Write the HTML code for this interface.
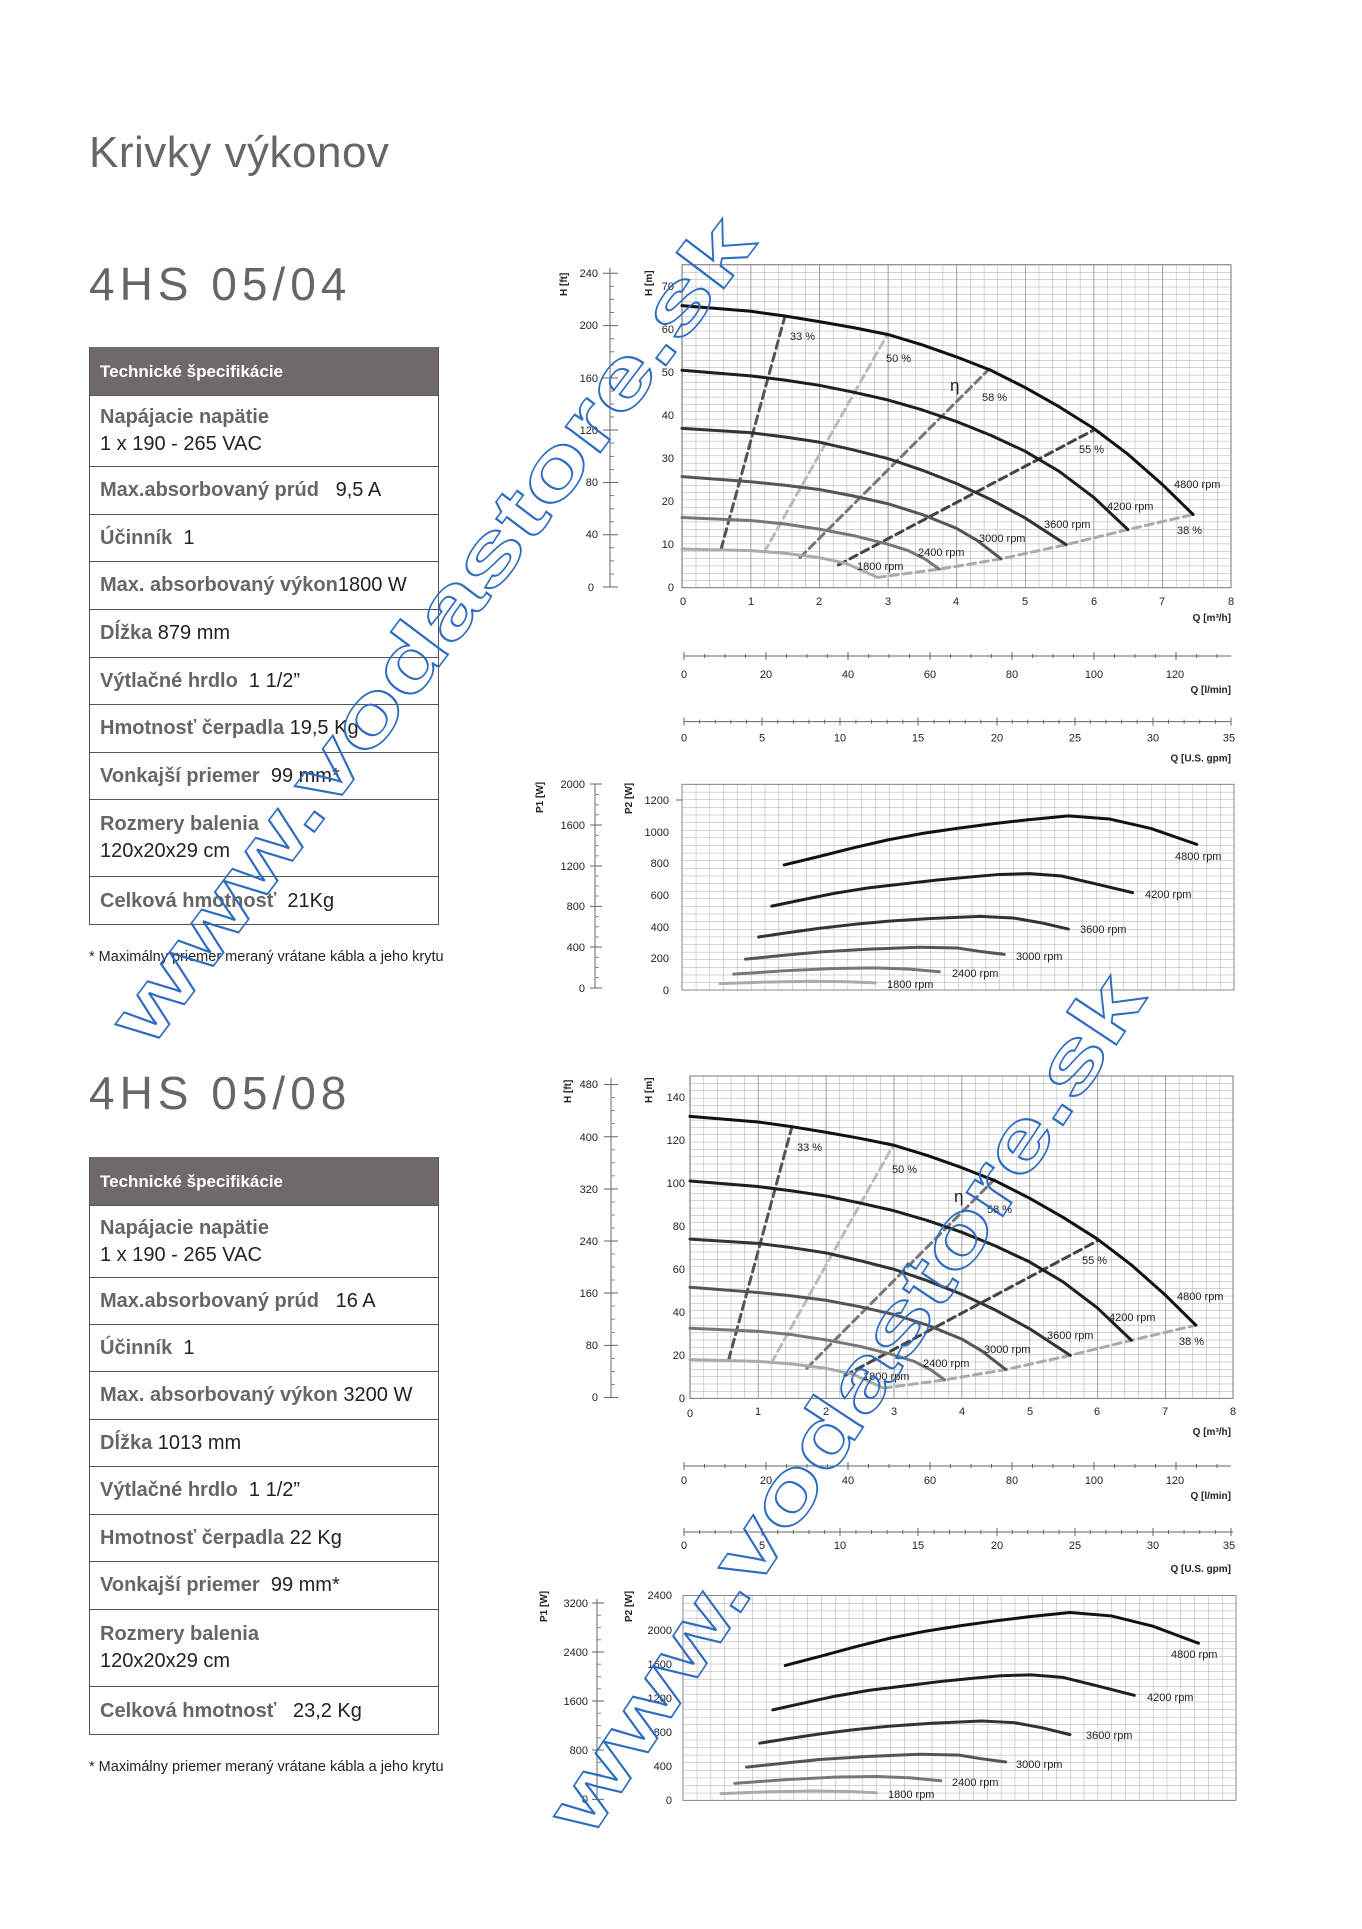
<!DOCTYPE html>
<html><head><meta charset="utf-8">
<style>
body{margin:0;background:#fff;}
.page{position:relative;width:1362px;height:1929px;overflow:hidden;background:#fff;font-family:"Liberation Sans",sans-serif;}
.t{position:absolute;color:#666;white-space:nowrap;line-height:1;}
.tbl{position:absolute;left:89px;width:350px;border:1px solid #555;border-top:none;box-sizing:border-box;}
.row{position:absolute;left:0;right:0;border-top:1px solid #555;box-sizing:border-box;padding-left:10px;font-size:20px;color:#222;display:flex;flex-direction:column;justify-content:center;line-height:27px;white-space:nowrap;}
.row b{color:#666;}
.hd{background:#6f6a67;color:#fff;font-weight:bold;font-size:17px;border-top:none;}
.fn{position:absolute;left:89px;font-size:14.5px;color:#222;line-height:1;}
svg{position:absolute;left:0;top:0;}
</style></head><body><div class="page">

<div class="t" style="left:89px;top:131px;font-size:44px;letter-spacing:0.5px;">Krivky výkonov</div>
<div class="t" style="left:89px;top:261px;font-size:46px;letter-spacing:5px;">4HS 05/04</div>

<div class="tbl" style="top:347px;height:578px;">
<div class="row hd" style="top:0;height:48px;">Technické špecifikácie</div>
<div class="row" style="top:48px;height:71px;"><div><b>Napájacie napätie</b></div><div>1 x 190 - 265 VAC</div></div>
<div class="row" style="top:119px;height:48px;"><div><b>Max.absorbovaný prúd</b> &nbsp; 9,5 A</div></div>
<div class="row" style="top:167px;height:47px;"><div><b>Účinník</b> &nbsp;1</div></div>
<div class="row" style="top:214px;height:48px;"><div><b>Max. absorbovaný výkon</b>1800 W</div></div>
<div class="row" style="top:262px;height:48px;"><div><b>Dĺžka</b> 879 mm</div></div>
<div class="row" style="top:310px;height:47px;"><div><b>Výtlačné hrdlo</b> &nbsp;1 1/2”</div></div>
<div class="row" style="top:357px;height:48px;"><div><b>Hmotnosť čerpadla</b> 19,5 Kg</div></div>
<div class="row" style="top:405px;height:47px;"><div><b>Vonkajší priemer</b> &nbsp;99 mm*</div></div>
<div class="row" style="top:452px;height:77px;"><div><b>Rozmery balenia</b></div><div>120x20x29 cm</div></div>
<div class="row" style="top:529px;height:49px;"><div><b>Celková hmotnosť</b> &nbsp;21Kg</div></div>
</div>
<div class="fn" style="top:950px;">* Maximálny priemer meraný vrátane kábla a jeho krytu</div>

<div class="t" style="left:89px;top:1070px;font-size:46px;letter-spacing:5px;">4HS 05/08</div>

<div class="tbl" style="top:1157px;height:578px;">
<div class="row hd" style="top:0;height:48px;">Technické špecifikácie</div>
<div class="row" style="top:48px;height:72px;"><div><b>Napájacie napätie</b></div><div>1 x 190 - 265 VAC</div></div>
<div class="row" style="top:120px;height:47px;"><div><b>Max.absorbovaný prúd</b> &nbsp; 16 A</div></div>
<div class="row" style="top:167px;height:47px;"><div><b>Účinník</b> &nbsp;1</div></div>
<div class="row" style="top:214px;height:48px;"><div><b>Max. absorbovaný výkon</b> 3200 W</div></div>
<div class="row" style="top:262px;height:47px;"><div><b>Dĺžka</b> 1013 mm</div></div>
<div class="row" style="top:309px;height:48px;"><div><b>Výtlačné hrdlo</b> &nbsp;1 1/2”</div></div>
<div class="row" style="top:357px;height:47px;"><div><b>Hmotnosť čerpadla</b> 22 Kg</div></div>
<div class="row" style="top:404px;height:48px;"><div><b>Vonkajší priemer</b> &nbsp;99 mm*</div></div>
<div class="row" style="top:452px;height:77px;"><div><b>Rozmery balenia</b></div><div>120x20x29 cm</div></div>
<div class="row" style="top:529px;height:49px;"><div><b>Celková hmotnosť</b> &nbsp; 23,2 Kg</div></div>
</div>
<div class="fn" style="top:1760px;">* Maximálny priemer meraný vrátane kábla a jeho krytu</div>

<svg width="1362" height="1929" viewBox="0 0 1362 1929" font-family="Liberation Sans, sans-serif">
<defs>
<pattern id="g1" x="682" y="587.7" width="13.72" height="7.34" patternUnits="userSpaceOnUse"><path d="M0 0H13.72M0 0V7.34" stroke="#a8a8a8" stroke-width="1" fill="none"/></pattern>
<pattern id="g1m" x="682" y="587.7" width="68.6" height="400" patternUnits="userSpaceOnUse"><path d="M0 0V400" stroke="#777" stroke-width="1.2"/></pattern>
<pattern id="g2" x="690" y="1398.4" width="13.58" height="7.33" patternUnits="userSpaceOnUse"><path d="M0 0H13.58M0 0V7.33" stroke="#a8a8a8" stroke-width="1" fill="none"/></pattern>
<pattern id="g2m" x="690" y="1398.4" width="67.9" height="400" patternUnits="userSpaceOnUse"><path d="M0 0V400" stroke="#777" stroke-width="1.2"/></pattern>
<pattern id="p1" x="682" y="990" width="13.8" height="7.62" patternUnits="userSpaceOnUse"><path d="M0 0H13.8M0 0V7.62" stroke="#aaa" stroke-width="1" fill="none"/></pattern>
<pattern id="p2" x="683" y="1800.4" width="13.82" height="7.59" patternUnits="userSpaceOnUse"><path d="M0 0H13.82M0 0V7.59" stroke="#aaa" stroke-width="1" fill="none"/></pattern>

<g id="hq" fill="none" stroke-linejoin="round" stroke-linecap="round">
<polyline vector-effect="non-scaling-stroke" stroke="#555" stroke-width="3" stroke-dasharray="8 5" points="0.57,9 1.5,63"/>
<polyline vector-effect="non-scaling-stroke" stroke="#bbb" stroke-width="3" stroke-dasharray="8 5" points="1.2,8.3 3,59"/>
<polyline vector-effect="non-scaling-stroke" stroke="#777" stroke-width="3" stroke-dasharray="8 5" points="1.72,7 4.48,50.8"/>
<polyline vector-effect="non-scaling-stroke" stroke="#444" stroke-width="3" stroke-dasharray="8 5" points="2.28,5.3 6,36.6"/>
<polyline vector-effect="non-scaling-stroke" stroke="#aaa" stroke-width="3" stroke-dasharray="8 5" points="2.85,2.4 3.75,4.3 4.65,6.7 5.6,10 6.5,13.5 7.45,17"/>
<polyline vector-effect="non-scaling-stroke" stroke="#111" stroke-width="3" points="0,65.5 1,64.2 1.5,63.1 2,61.8 2.5,60.4 3,58.8 3.5,56.4 4,53.6 4.5,50.5 5,46.5 5.5,42 6,37 6.5,31 7,24 7.45,17"/>
<polyline vector-effect="non-scaling-stroke" stroke="#1e1e1e" stroke-width="3" points="0,50.5 1,49.2 1.5,48.2 2,47 2.5,45.4 3,43.6 3.5,41.3 4,38.6 4.5,35.4 5,31.7 5.5,27 6,21 6.5,13.5"/>
<polyline vector-effect="non-scaling-stroke" stroke="#333" stroke-width="3" points="0,37 1,36 1.5,35 2,33.8 2.5,32 3,30 3.5,27.3 4,24.2 4.5,20.5 5,16.2 5.6,10"/>
<polyline vector-effect="non-scaling-stroke" stroke="#555" stroke-width="3" points="0,25.8 1,24.6 1.5,23.8 2,22.8 2.5,21.3 3,19.5 3.5,17 4,13.8 4.3,11 4.65,6.7"/>
<polyline vector-effect="non-scaling-stroke" stroke="#777" stroke-width="3" points="0,16.3 1,15.6 1.5,14.8 2,13.6 2.5,12.1 3,10.1 3.3,8.6 3.55,6.6 3.75,4.3"/>
<polyline vector-effect="non-scaling-stroke" stroke="#aaa" stroke-width="3" points="0,9 1,8.6 1.5,8 2,7 2.4,5.6 2.85,2.4"/>
</g>
<g id="pq" fill="none" stroke-linecap="round" stroke-linejoin="round">
<polyline vector-effect="non-scaling-stroke" stroke="#111" stroke-width="3" points="1.48,790 2,845 2.5,900 3,950 3.5,990 4,1022 4.5,1050 5,1075 5.6,1100 6.2,1080 6.8,1020 7.46,920"/>
<polyline vector-effect="non-scaling-stroke" stroke="#1e1e1e" stroke-width="3" points="1.3,530 1.8,575 2.2,610 2.7,645 3.2,670 3.7,695 4.2,715 4.6,730 5.04,735 5.5,720 6,670 6.53,615"/>
<polyline vector-effect="non-scaling-stroke" stroke="#333" stroke-width="3" points="1.11,335 1.5,360 2,390 2.5,415 3,435 3.6,452 4.32,465 4.8,455 5.2,425 5.6,385"/>
<polyline vector-effect="non-scaling-stroke" stroke="#555" stroke-width="3" points="0.92,195 1.5,220 2,240 2.7,258 3.44,270 4,265 4.3,245 4.67,225"/>
<polyline vector-effect="non-scaling-stroke" stroke="#777" stroke-width="3" points="0.75,100 1.5,122 2.2,136 2.79,140 3.3,132 3.73,115"/>
<polyline vector-effect="non-scaling-stroke" stroke="#aaa" stroke-width="3" points="0.55,40 1.2,50 1.87,55 2.4,52 2.8,45"/>
</g>
</defs>

<!-- ===== CHART 1 ===== -->
<rect x="682" y="264.7" width="549" height="323" fill="url(#g1)"/>
<rect x="682" y="264.7" width="549" height="323" fill="url(#g1m)"/>
<rect x="682" y="264.7" width="549" height="323" fill="none" stroke="#777" stroke-width="1"/>
<use href="#hq" transform="translate(682 587.7) scale(68.6 -4.306)"/>
<g font-size="11" fill="#222">
<text x="790" y="340">33 %</text><text x="886" y="362">50 %</text>
<text x="950" y="391" font-size="17">η</text><text x="982" y="401">58 %</text>
<text x="1079" y="453">55 %</text><text x="1177" y="534">38 %</text>
<text x="1174" y="488">4800 rpm</text><text x="1107" y="510">4200 rpm</text>
<text x="1044" y="528">3600 rpm</text><text x="979" y="542">3000 rpm</text>
<text x="918" y="556">2400 rpm</text><text x="857" y="570">1800 rpm</text>
</g>
<g stroke="#666" stroke-width="1">
<line x1="610" y1="268" x2="610" y2="587"/>
<path d="M603 273.3h15M603 325.6h15M603 378h15M603 430h15M603 482.5h15M603 534.7h15M603 587h15"/>
</g>
<path d="M610 286.4h4M610 299.4h4M610 312.5h4M610 338.7h4M610 351.8h4M610 364.9h4M610 391h4M610 404h4M610 417h4M610 443h4M610 456.4h4M610 469.5h4M610 495.6h4M610 508.7h4M610 521.7h4M610 547.8h4M610 560.9h4M610 574h4" stroke="#777"/>
<g font-size="11" fill="#222" text-anchor="end">
<text x="598" y="277">240</text><text x="598" y="329">200</text><text x="598" y="382">160</text><text x="598" y="434">120</text><text x="598" y="486">80</text><text x="598" y="538">40</text><text x="594" y="591">0</text>
<text x="674" y="290">70</text><text x="674" y="333">60</text><text x="674" y="376">50</text><text x="674" y="419">40</text><text x="674" y="462">30</text><text x="674" y="505">20</text><text x="674" y="548">10</text><text x="674" y="591">0</text>
</g>
<text transform="translate(567 296) rotate(-90)" font-size="10" font-weight="bold" fill="#222">H [ft]</text>
<text transform="translate(652 296) rotate(-90)" font-size="10" font-weight="bold" fill="#222">H [m]</text>
<g font-size="11" fill="#222" text-anchor="middle">
<text x="683" y="605">0</text><text x="751" y="605">1</text><text x="819" y="605">2</text><text x="888" y="605">3</text><text x="956" y="605">4</text><text x="1025" y="605">5</text><text x="1094" y="605">6</text><text x="1162" y="605">7</text><text x="1231" y="605">8</text>
</g>
<text x="1231" y="621" font-size="10" font-weight="bold" text-anchor="end" fill="#222">Q [m³/h]</text>
<g transform="translate(0 32)">
<line x1="684" y1="624" x2="1231" y2="624" stroke="#666"/>
<path d="M684 620v8M704.5 622v4M725 622v4M745.5 622v4M766 620v8M786.5 622v4M807 622v4M827.5 622v4M848 620v8M868.5 622v4M889 622v4M909.5 622v4M930 620v8M950.5 622v4M971 622v4M991.5 622v4M1012 620v8M1032.5 622v4M1053 622v4M1073.5 622v4M1094 620v8M1114.5 622v4M1135 622v4M1155.5 622v4M1176 620v8M1196.5 622v4M1217 622v4" stroke="#666"/>
<g font-size="11" fill="#222" text-anchor="middle">
<text x="684" y="646">0</text><text x="766" y="646">20</text><text x="848" y="646">40</text><text x="930" y="646">60</text><text x="1012" y="646">80</text><text x="1094" y="646">100</text><text x="1175" y="646">120</text>
</g>
<text x="1231" y="661" font-size="10" font-weight="bold" text-anchor="end" fill="#222">Q [l/min]</text>
</g>
<g transform="translate(0 37.6)">
<line x1="684" y1="684" x2="1231" y2="684" stroke="#666"/>
<path d="M684 680v8M762 680v8M840 680v8M918 680v8M997 680v8M1075 680v8M1153 680v8M1231 680v8M699.6 682v4M715.3 682v4M730.9 682v4M746.5 682v4M777.7 682v4M793.4 682v4M809 682v4M824.6 682v4M855.9 682v4M871.5 682v4M887.1 682v4M902.8 682v4M934 682v4M949.6 682v4M965.3 682v4M980.9 682v4M1012.2 682v4M1027.8 682v4M1043.4 682v4M1059 682v4M1090.3 682v4M1106 682v4M1121.6 682v4M1137.2 682v4M1168.5 682v4M1184.1 682v4M1199.7 682v4M1215.4 682v4" stroke="#666"/>
<g font-size="11" fill="#222" text-anchor="middle">
<text x="684" y="704">0</text><text x="762" y="704">5</text><text x="840" y="704">10</text><text x="918" y="704">15</text><text x="997" y="704">20</text><text x="1075" y="704">25</text><text x="1153" y="704">30</text><text x="1229" y="704">35</text>
</g>
<text x="1231" y="724" font-size="10" font-weight="bold" text-anchor="end" fill="#222">Q [U.S. gpm]</text>
</g>

<!-- P chart 1 -->
<rect x="682" y="784.3" width="552" height="205.7" fill="url(#p1)"/>
<rect x="682" y="784.3" width="552" height="205.7" fill="none" stroke="#888"/>
<use href="#pq" transform="translate(682 990) scale(69 -0.1583)"/>
<g font-size="11" fill="#222">
<text x="1175" y="860">4800 rpm</text><text x="1145" y="898">4200 rpm</text><text x="1080" y="933">3600 rpm</text>
<text x="1016" y="960">3000 rpm</text><text x="952" y="977">2400 rpm</text><text x="887" y="988">1800 rpm</text>
</g>
<g font-size="11" fill="#222" text-anchor="end">
<text x="669" y="804">1200</text><text x="669" y="836">1000</text><text x="669" y="867">800</text><text x="669" y="899">600</text><text x="669" y="931">400</text><text x="669" y="962">200</text><text x="669" y="994">0</text>
<text x="585" y="788">2000</text><text x="585" y="829">1600</text><text x="585" y="870">1200</text><text x="585" y="910">800</text><text x="585" y="951">400</text><text x="585" y="992">0</text>
</g>
<line x1="595" y1="784" x2="595" y2="988" stroke="#666"/>
<path d="M590 784h12M590 825h12M590 866h12M590 906.4h12M590 947h12M590 988h12" stroke="#666"/>
<path d="M595 794.5h4M595 804.7h4M595 814.8h4M595 835.4h4M595 845.6h4M595 855.8h4M595 876h4M595 886h4M595 896h4M595 916.6h4M595 926.8h4M595 937h4M595 957.4h4M595 967.5h4M595 977.6h4" stroke="#888"/>
<line x1="676" y1="800" x2="682" y2="800" stroke="#666"/>
<text transform="translate(543 813) rotate(-90)" font-size="10" font-weight="bold" fill="#222">P1 [W]</text>
<text transform="translate(632 814) rotate(-90)" font-size="10" font-weight="bold" fill="#222">P2 [W]</text>

<!-- ===== CHART 2 ===== -->
<rect x="690" y="1076" width="543" height="322.4" fill="url(#g2)"/>
<rect x="690" y="1076" width="543" height="322.4" fill="url(#g2m)"/>
<rect x="690" y="1076" width="543" height="322.4" fill="none" stroke="#777"/>
<use href="#hq" transform="translate(690 1398.4) scale(67.9 -4.306)"/>
<g font-size="11" fill="#222">
<text x="797" y="1151">33 %</text><text x="892" y="1173">50 %</text>
<text x="954" y="1202" font-size="17">η</text><text x="987" y="1213">58 %</text>
<text x="1082" y="1264">55 %</text><text x="1179" y="1345">38 %</text>
<text x="1177" y="1300">4800 rpm</text><text x="1109" y="1321">4200 rpm</text>
<text x="1047" y="1339">3600 rpm</text><text x="984" y="1353">3000 rpm</text>
<text x="923" y="1367">2400 rpm</text><text x="863" y="1380">1800 rpm</text>
</g>
<g stroke="#666">
<line x1="611" y1="1078" x2="611" y2="1397.5"/>
<path d="M604 1084.5h14M604 1136.7h14M604 1189h14M604 1241h14M604 1293h14M604 1345.4h14M604 1397.5h14"/>
</g>
<path d="M611 1097.5h4M611 1110.6h4M611 1123.6h4M611 1149.7h4M611 1162.8h4M611 1175.8h4M611 1202h4M611 1215h4M611 1228h4M611 1254h4M611 1267h4M611 1280h4M611 1306h4M611 1319.3h4M611 1332.4h4M611 1358.4h4M611 1371.5h4M611 1384.5h4" stroke="#888"/>
<g font-size="11" fill="#222" text-anchor="end">
<text x="598" y="1088">480</text><text x="598" y="1141">400</text><text x="598" y="1193">320</text><text x="598" y="1245">240</text><text x="598" y="1297">160</text><text x="598" y="1349">80</text><text x="598" y="1401">0</text>
<text x="685" y="1101">140</text><text x="685" y="1144">120</text><text x="685" y="1187">100</text><text x="685" y="1230">80</text><text x="685" y="1273">60</text><text x="685" y="1316">40</text><text x="685" y="1359">20</text><text x="685" y="1402">0</text>
</g>
<text transform="translate(571 1103) rotate(-90)" font-size="10" font-weight="bold" fill="#222">H [ft]</text>
<text transform="translate(652 1103) rotate(-90)" font-size="10" font-weight="bold" fill="#222">H [m]</text>
<g font-size="11" fill="#222" text-anchor="middle">
<text x="690" y="1417">0</text><text x="758" y="1415">1</text><text x="826" y="1415">2</text><text x="894" y="1415">3</text><text x="962" y="1415">4</text><text x="1030" y="1415">5</text><text x="1097" y="1415">6</text><text x="1165" y="1415">7</text><text x="1233" y="1415">8</text>
</g>
<text x="1231" y="1435" font-size="10" font-weight="bold" text-anchor="end" fill="#222">Q [m³/h]</text>
<g transform="translate(0 842)">
<line x1="684" y1="624" x2="1231" y2="624" stroke="#666"/>
<path d="M684 620v8M704.5 622v4M725 622v4M745.5 622v4M766 620v8M786.5 622v4M807 622v4M827.5 622v4M848 620v8M868.5 622v4M889 622v4M909.5 622v4M930 620v8M950.5 622v4M971 622v4M991.5 622v4M1012 620v8M1032.5 622v4M1053 622v4M1073.5 622v4M1094 620v8M1114.5 622v4M1135 622v4M1155.5 622v4M1176 620v8M1196.5 622v4M1217 622v4" stroke="#666"/>
<g font-size="11" fill="#222" text-anchor="middle">
<text x="684" y="642">0</text><text x="766" y="642">20</text><text x="848" y="642">40</text><text x="930" y="642">60</text><text x="1012" y="642">80</text><text x="1094" y="642">100</text><text x="1175" y="642">120</text>
</g>
<text x="1231" y="657" font-size="10" font-weight="bold" text-anchor="end" fill="#222">Q [l/min]</text>
</g>
<g transform="translate(0 848)">
<line x1="684" y1="684" x2="1233" y2="684" stroke="#666"/>
<path d="M684 680v8M762 680v8M840 680v8M918 680v8M997 680v8M1075 680v8M1153 680v8M1231 680v8M699.6 682v4M715.3 682v4M730.9 682v4M746.5 682v4M777.7 682v4M793.4 682v4M809 682v4M824.6 682v4M855.9 682v4M871.5 682v4M887.1 682v4M902.8 682v4M934 682v4M949.6 682v4M965.3 682v4M980.9 682v4M1012.2 682v4M1027.8 682v4M1043.4 682v4M1059 682v4M1090.3 682v4M1106 682v4M1121.6 682v4M1137.2 682v4M1168.5 682v4M1184.1 682v4M1199.7 682v4M1215.4 682v4" stroke="#666"/>
<g font-size="11" fill="#222" text-anchor="middle">
<text x="684" y="701">0</text><text x="762" y="701">5</text><text x="840" y="701">10</text><text x="918" y="701">15</text><text x="997" y="701">20</text><text x="1075" y="701">25</text><text x="1153" y="701">30</text><text x="1229" y="701">35</text>
</g>
<text x="1231" y="724" font-size="10" font-weight="bold" text-anchor="end" fill="#222">Q [U.S. gpm]</text>
</g>

<rect x="683" y="1595.5" width="553" height="204.9" fill="url(#p2)"/>
<rect x="683" y="1595.5" width="553" height="204.9" fill="none" stroke="#888"/>
<use href="#pq" transform="translate(683 1800.4) scale(69.1 -0.1708)"/>
<g font-size="11" fill="#222">
<text x="1171" y="1658">4800 rpm</text><text x="1147" y="1701">4200 rpm</text><text x="1086" y="1739">3600 rpm</text>
<text x="1016" y="1768">3000 rpm</text><text x="952" y="1786">2400 rpm</text><text x="888" y="1798">1800 rpm</text>
</g>
<g font-size="11" fill="#222" text-anchor="end">
<text x="672" y="1599">2400</text><text x="672" y="1634">2000</text><text x="672" y="1668">1600</text><text x="672" y="1702">1200</text><text x="672" y="1736">800</text><text x="672" y="1770">400</text><text x="672" y="1804">0</text>
<text x="588" y="1607">3200</text><text x="588" y="1656">2400</text><text x="588" y="1705">1600</text><text x="588" y="1754">800</text><text x="588" y="1803">0</text>
</g>
<line x1="597" y1="1599" x2="597" y2="1799.4" stroke="#666"/>
<path d="M592 1603h12M592 1652h12M592 1701h12M592 1750h12M592 1799.4h12" stroke="#666"/>
<path d="M597 1615.3h4M597 1627.6h4M597 1639.7h4M597 1664.3h4M597 1676.6h4M597 1688.8h4M597 1713.3h4M597 1725.6h4M597 1737.8h4M597 1762.3h4M597 1774.6h4M597 1786.9h4" stroke="#888"/>
<text transform="translate(547 1622) rotate(-90)" font-size="10" font-weight="bold" fill="#222">P1 [W]</text>
<text transform="translate(632 1622) rotate(-90)" font-size="10" font-weight="bold" fill="#222">P2 [W]</text>

<!-- watermarks -->
<g fill="none" stroke="#2d6cc0" stroke-width="1.6" font-size="82" font-weight="bold">
<text transform="translate(150 1050) rotate(-53)" textLength="1010" lengthAdjust="spacingAndGlyphs">www.vodastore.sk</text>
<text transform="translate(590 1840) rotate(-56.5)" textLength="1010" lengthAdjust="spacingAndGlyphs">www.vodastore.sk</text>
</g>
</svg>
</div></body></html>
